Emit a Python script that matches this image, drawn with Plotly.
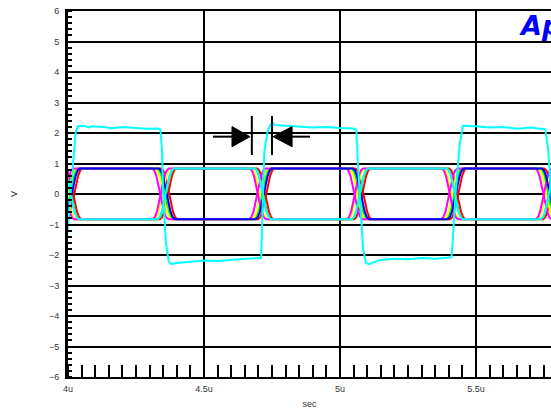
import plotly.graph_objects as go

# ---------------- data ----------------
# time axis in microseconds, volts on y
X_TICK_VALS = [4.0, 4.5, 5.0, 5.5]
X_TICK_TEXT = ["4u", "4.5u", "5u", "5.5u"]
Y_TICK_VALS = [-6, -5, -4, -3, -2, -1, 0, 1, 2, 3, 4, 5, 6]

# eye-diagram crossing instants (u)
CROSSINGS = [3.655, 4.007, 4.356, 4.713, 5.070, 5.419, 5.765, 6.115]
LEVEL_HIGH = 0.84
LEVEL_LOW = -0.83

# per-colour sweeps: (colour, edge offset in u, high in first interval?)
SWEEPS = [
    ("#ff0000", 0.016, True),
    ("#ff0000", 0.012, False),
    ("#ffff00", -0.006, True),
    ("#ffff00", -0.009, False),
    ("#00ff00", 0.002, True),
    ("#00ff00", 0.004, False),
    ("#ff00ff", -0.017, True),
    ("#ff00ff", -0.015, False),
    ("#0000ff", 0.007, True),
    ("#00ffff", 0.003, False),
]
# normalised edge profile (time from crossing in u, fraction of swing)
EDGE_PROFILE = [(-0.030, 0.0), (-0.022, 0.04), (-0.014, 0.15), (-0.007, 0.32),
                (0.0, 0.5), (0.007, 0.68), (0.014, 0.85), (0.022, 0.96),
                (0.030, 1.0)]

# large cyan trace, read point by point (u, V)
BIG_T = [3.990, 4.000, 4.015, 4.028, 4.035, 4.060, 4.075, 4.090, 4.130, 4.160,
         4.200, 4.250, 4.290, 4.330, 4.340, 4.345, 4.350, 4.360, 4.370, 4.380,
         4.400, 4.450, 4.500, 4.550, 4.600, 4.650, 4.710, 4.714, 4.718, 4.722,
         4.735, 4.750, 4.760, 4.800, 4.850, 4.900, 4.950, 5.000, 5.050, 5.060,
         5.066, 5.075, 5.085, 5.095, 5.105, 5.150, 5.200, 5.250, 5.300, 5.350,
         5.410, 5.415, 5.425, 5.440, 5.452, 5.500, 5.550, 5.600, 5.650, 5.700,
         5.755, 5.765, 5.775, 5.790]
BIG_V = [-2.10, -1.00, 0.80, 2.00, 2.22, 2.24, 2.18, 2.22, 2.20, 2.16,
         2.20, 2.18, 2.14, 2.15, 2.10, 1.50, 0.00, -1.60, -2.20, -2.30,
         -2.26, -2.22, -2.18, -2.20, -2.15, -2.12, -2.10, -1.00, 0.50, 1.40,
         2.10, 2.34, 2.26, 2.24, 2.22, 2.18, 2.20, 2.16, 2.15, 2.10,
         1.00, -0.50, -1.80, -2.25, -2.30, -2.16, -2.12, -2.14, -2.10, -2.12,
         -2.08, -1.50, 0.00, 1.60, 2.24, 2.22, 2.18, 2.20, 2.14, 2.18,
         2.12, 1.50, 0.30, -1.50]

# marker arrows (u, V)
ARROW_Y = 1.88
ARROW_HALF = 0.33
BAR_LO, BAR_HI = 1.28, 2.56
LEFT_LINE = (4.533, 4.603)
LEFT_TIP = 4.669
LEFT_BAR = 4.676
RIGHT_BAR = 4.750
RIGHT_TIP = 4.754
RIGHT_LINE = (4.824, 4.890)


def build_sweep(offset, high_first):
    # level during interval k (between CROSSINGS[k] and CROSSINGS[k+1]);
    # interval 1 is 4.007..4.356
    def level(k):
        hi = ((k - 1) % 2 == 0) == high_first
        return LEVEL_HIGH if hi else LEVEL_LOW
    xs = [CROSSINGS[0] - 0.3]
    ys = [level(-1)]
    for k, c in enumerate(CROSSINGS):
        a, b = level(k - 1), level(k)
        for dt, f in EDGE_PROFILE:
            xs.append(c + offset + dt)
            ys.append(a + (b - a) * f)
    xs.append(CROSSINGS[-1] + 0.3)
    ys.append(level(len(CROSSINGS) - 1))
    return xs, ys


fig = go.Figure()
for colour, off, hf in SWEEPS:
    sx, sy = build_sweep(off, hf)
    fig.add_trace(go.Scatter(x=sx, y=sy, mode="lines",
                             line=dict(color=colour, width=2),
                             showlegend=False, hoverinfo="skip"))
fig.add_trace(go.Scatter(x=BIG_T, y=BIG_V, mode="lines",
                         line=dict(color="#00ffff", width=2),
                         showlegend=False, hoverinfo="skip"))

shapes = [
    dict(type="line", x0=LEFT_LINE[0], x1=LEFT_LINE[1], y0=ARROW_Y, y1=ARROW_Y,
         line=dict(color="black", width=2)),
    dict(type="path", path=f"M {LEFT_LINE[1]},{ARROW_Y + ARROW_HALF} L {LEFT_TIP},{ARROW_Y} "
                           f"L {LEFT_LINE[1]},{ARROW_Y - ARROW_HALF} Z",
         fillcolor="black", line=dict(color="black", width=1)),
    dict(type="line", x0=LEFT_BAR, x1=LEFT_BAR, y0=BAR_LO, y1=BAR_HI,
         line=dict(color="black", width=2)),
    dict(type="line", x0=RIGHT_BAR, x1=RIGHT_BAR, y0=BAR_LO, y1=BAR_HI,
         line=dict(color="black", width=2)),
    dict(type="path", path=f"M {RIGHT_LINE[0]},{ARROW_Y + ARROW_HALF} L {RIGHT_TIP},{ARROW_Y} "
                           f"L {RIGHT_LINE[0]},{ARROW_Y - ARROW_HALF} Z",
         fillcolor="black", line=dict(color="black", width=1)),
    dict(type="line", x0=RIGHT_LINE[0], x1=RIGHT_LINE[1], y0=ARROW_Y, y1=ARROW_Y,
         line=dict(color="black", width=2)),
]

FONT = "Liberation Sans, Arial, sans-serif"
fig.update_layout(
    width=551, height=411,
    margin=dict(l=68, r=0, t=11, b=34),
    paper_bgcolor="white", plot_bgcolor="white",
    shapes=shapes,
    font=dict(family=FONT, size=9, color="#333333"),
    xaxis=dict(range=[4.0, 5.776], tickvals=X_TICK_VALS, ticktext=X_TICK_TEXT,
               showgrid=True, gridcolor="black", gridwidth=2,
               showline=True, linecolor="black", linewidth=2, mirror=True,
               ticks="", zeroline=False, ticklabelstandoff=2,
               minor=dict(ticks="inside", ticklen=12, tickwidth=1.5,
                          tickcolor="black", dtick=0.05, tick0=4.0, showgrid=False),
               title=dict(text="sec", font=dict(size=9), standoff=8)),
    yaxis=dict(range=[-6, 6], tickvals=Y_TICK_VALS,
               showgrid=True, gridcolor="black", gridwidth=2,
               zeroline=True, zerolinecolor="black", zerolinewidth=2,
               showline=True, linecolor="black", linewidth=3, mirror=False,
               ticks="", ticklabelstandoff=4,
               minor=dict(ticks="inside", ticklen=4, tickwidth=1.5,
                          tickcolor="black", dtick=0.2, tick0=0, showgrid=False),
               title=dict(text="V", font=dict(size=9), standoff=30)),
    annotations=[dict(text="<b><i>Ap</i></b>", xref="paper", yref="paper",
                      x=0.929, y=1.0, xanchor="left", yanchor="top", yshift=3,
                      showarrow=False,
                      font=dict(family="DejaVu Sans, sans-serif", size=27,
                                color="#0000ff"))],
)
fig.write_html("out.html")
